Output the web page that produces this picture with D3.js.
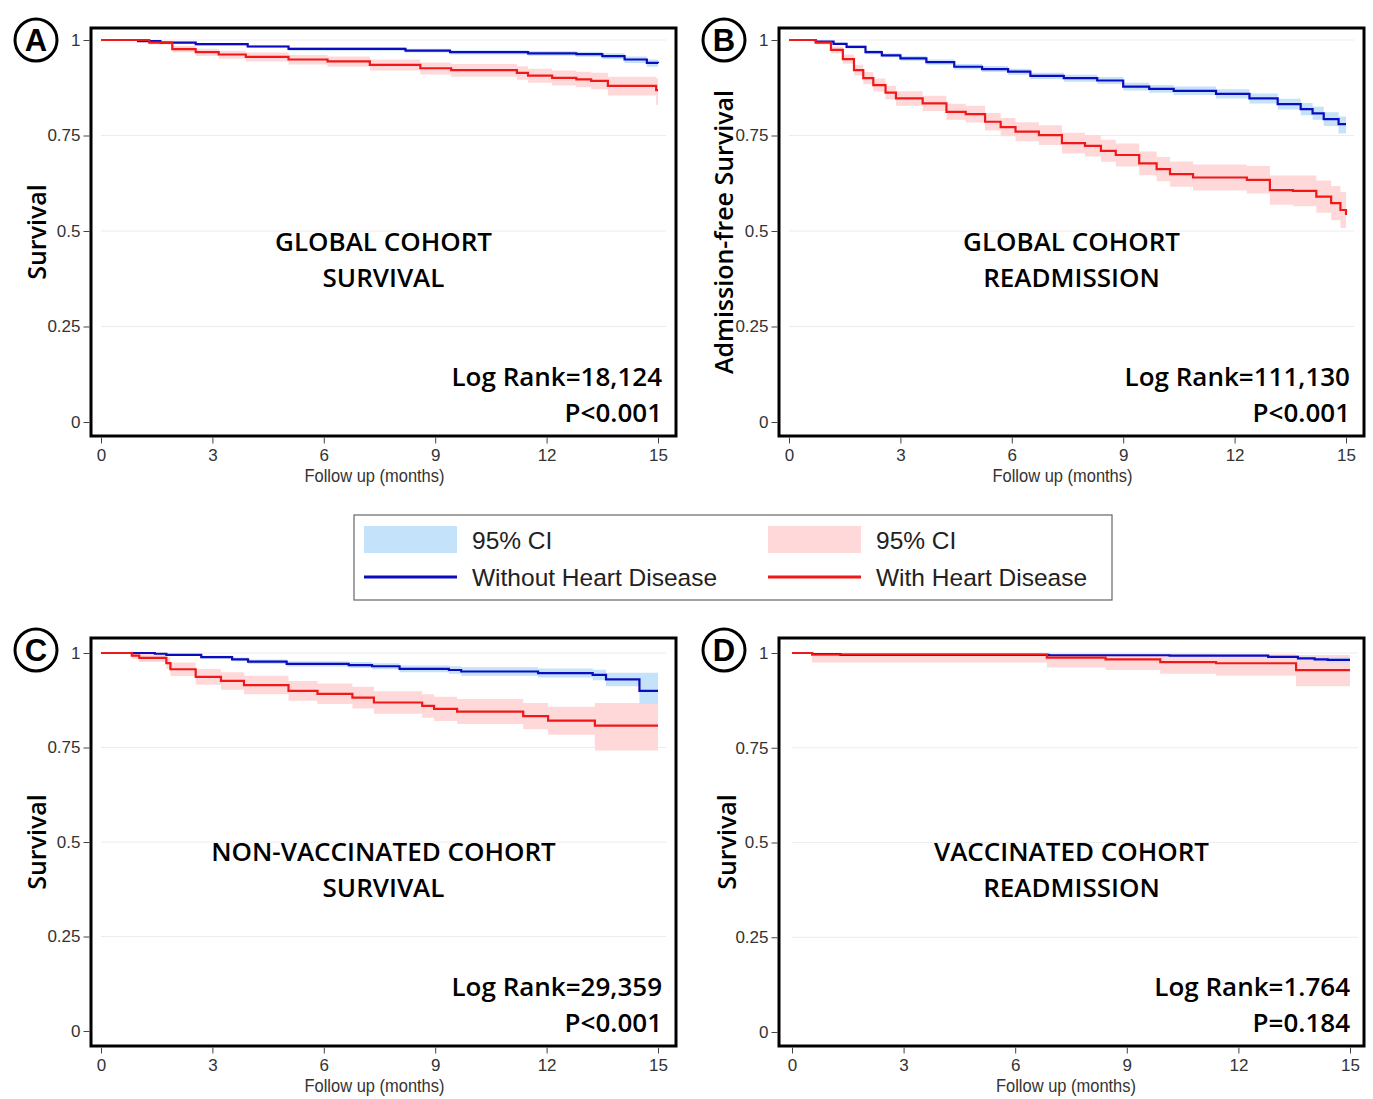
<!DOCTYPE html>
<html>
<head>
<meta charset="utf-8">
<script src="https://cdn.jsdelivr.net/npm/d3@7"></script>
<style>
    body { margin: 0; background: #fff; }
    svg { display: block; }
    .tick text { font-family: "Liberation Sans Narrow", "Liberation Sans", sans-serif; font-size: 17px; fill: #333; }
    .tick line { stroke: #444; }
    .domain { display: none; }
</style>
</head>
<body>
<svg width="1373" height="1099"></svg>
<script>
// months, survival, lower 95% CI, upper 95% CI
const aWithout = [
    [0, 1, 1, 1], [1.0, 0.997, 0.995, 0.999], [1.6, 0.993, 0.990, 0.996], [2.55, 0.989, 0.985, 0.992],
    [3.95, 0.983, 0.979, 0.987], [5.05, 0.977, 0.972, 0.981], [8.2, 0.972, 0.967, 0.977],
    [9.4, 0.968, 0.962, 0.973], [11.5, 0.965, 0.959, 0.971], [12.8, 0.963, 0.956, 0.969],
    [13.5, 0.958, 0.950, 0.965], [14.1, 0.949, 0.940, 0.957], [14.7, 0.940, 0.930, 0.949],
    [15, 0.939, 0.929, 0.948]
];
const aWith = [
    [0, 1, 1, 1], [1.3, 0.993, 0.988, 0.998], [1.92, 0.976, 0.968, 0.984], [2.55, 0.968, 0.958, 0.977],
    [3.17, 0.962, 0.951, 0.972], [3.9, 0.956, 0.944, 0.967], [5.05, 0.949, 0.936, 0.961],
    [6.1, 0.944, 0.930, 0.957], [7.24, 0.935, 0.920, 0.949], [8.6, 0.926, 0.910, 0.941],
    [9.43, 0.921, 0.904, 0.937], [11.2, 0.914, 0.896, 0.931], [11.5, 0.907, 0.888, 0.925],
    [12.15, 0.901, 0.881, 0.920], [12.8, 0.897, 0.876, 0.917], [13.2, 0.893, 0.871, 0.914],
    [13.65, 0.880, 0.855, 0.904], [14.95, 0.869, 0.830, 0.900], [15, 0.869, 0.830, 0.900]
];
const bWithout = [
    [0, 1, 1, 1], [0.72, 0.996, 0.994, 0.998], [1.2, 0.990, 0.987, 0.993], [1.55, 0.982, 0.978, 0.986],
    [2.06, 0.968, 0.963, 0.973], [2.5, 0.960, 0.955, 0.965], [3.0, 0.952, 0.946, 0.958],
    [3.7, 0.942, 0.935, 0.949], [4.45, 0.930, 0.923, 0.937], [5.2, 0.924, 0.916, 0.932],
    [5.9, 0.917, 0.909, 0.925], [6.5, 0.906, 0.898, 0.914], [7.4, 0.900, 0.891, 0.909],
    [8.3, 0.894, 0.885, 0.903], [9.0, 0.878, 0.868, 0.888], [9.7, 0.872, 0.862, 0.882],
    [10.36, 0.867, 0.856, 0.878], [11.5, 0.859, 0.847, 0.871], [12.4, 0.847, 0.834, 0.860],
    [13.16, 0.832, 0.818, 0.846], [13.78, 0.819, 0.803, 0.835], [14.1, 0.808, 0.791, 0.825],
    [14.4, 0.793, 0.775, 0.811], [14.8, 0.780, 0.755, 0.800], [15, 0.780, 0.755, 0.800]
];
const bWith = [
    [0, 1, 1, 1], [0.72, 0.993, 0.988, 0.998], [1.13, 0.974, 0.965, 0.983], [1.45, 0.950, 0.938, 0.962],
    [1.75, 0.921, 0.907, 0.935], [2.0, 0.900, 0.884, 0.916], [2.27, 0.882, 0.865, 0.899],
    [2.6, 0.862, 0.844, 0.880], [2.88, 0.847, 0.828, 0.866], [3.6, 0.834, 0.814, 0.854],
    [4.24, 0.812, 0.791, 0.833], [4.76, 0.806, 0.784, 0.828], [5.28, 0.786, 0.763, 0.809],
    [5.7, 0.772, 0.748, 0.796], [6.1, 0.760, 0.735, 0.785], [6.73, 0.751, 0.725, 0.777],
    [7.35, 0.730, 0.703, 0.757], [7.97, 0.723, 0.695, 0.751], [8.4, 0.710, 0.681, 0.739],
    [8.8, 0.699, 0.669, 0.729], [9.43, 0.677, 0.646, 0.708], [9.9, 0.662, 0.630, 0.694],
    [10.26, 0.649, 0.616, 0.682], [10.88, 0.640, 0.606, 0.674], [12.33, 0.634, 0.598, 0.670],
    [12.95, 0.607, 0.569, 0.645], [13.57, 0.605, 0.565, 0.645], [14.2, 0.590, 0.548, 0.632],
    [14.6, 0.573, 0.528, 0.618], [14.85, 0.555, 0.508, 0.602], [15, 0.542, 0.492, 0.592]
];
const cWithout = [
    [0, 1, 1, 1], [1.45, 0.998, 0.996, 1.0], [1.76, 0.995, 0.992, 0.998], [2.7, 0.989, 0.985, 0.993],
    [3.53, 0.983, 0.978, 0.988], [3.96, 0.977, 0.971, 0.983], [5.0, 0.971, 0.964, 0.978],
    [6.67, 0.968, 0.960, 0.976], [7.3, 0.965, 0.957, 0.973], [8.04, 0.958, 0.949, 0.967],
    [9.37, 0.955, 0.945, 0.965], [9.7, 0.951, 0.940, 0.962], [11.77, 0.947, 0.935, 0.959],
    [13.24, 0.942, 0.928, 0.956], [13.6, 0.930, 0.912, 0.948], [14.5, 0.900, 0.865, 0.948],
    [15, 0.900, 0.865, 0.948]
];
const cWith = [
    [0, 1, 1, 1], [0.83, 0.993, 0.985, 1.0], [1.03, 0.987, 0.976, 0.998], [1.76, 0.973, 0.958, 0.988],
    [1.87, 0.957, 0.939, 0.975], [2.55, 0.937, 0.916, 0.958], [3.23, 0.926, 0.903, 0.949],
    [3.85, 0.915, 0.891, 0.940], [5.05, 0.900, 0.874, 0.926], [5.83, 0.892, 0.865, 0.919],
    [6.77, 0.882, 0.853, 0.911], [7.35, 0.869, 0.839, 0.899], [8.65, 0.860, 0.829, 0.891],
    [8.97, 0.852, 0.820, 0.884], [9.59, 0.845, 0.812, 0.878], [11.37, 0.833, 0.798, 0.868],
    [12.04, 0.821, 0.784, 0.858], [13.3, 0.808, 0.742, 0.868], [15, 0.808, 0.742, 0.868]
];
const dWithout = [
    [0, 1, 1, 1], [0.54, 0.997, 0.995, 0.999], [1.3, 0.995, 0.993, 0.997], [6.9, 0.994, 0.992, 0.996],
    [10.15, 0.993, 0.990, 0.996], [12.8, 0.990, 0.986, 0.994], [13.6, 0.986, 0.981, 0.991],
    [14.05, 0.983, 0.977, 0.989], [14.4, 0.982, 0.975, 0.988], [15, 0.982, 0.975, 0.988]
];
const dWith = [
    [0, 1, 1, 1], [0.54, 0.996, 0.975, 0.999], [6.85, 0.988, 0.962, 0.999], [8.43, 0.983, 0.955, 0.999],
    [9.9, 0.976, 0.945, 0.998], [11.4, 0.973, 0.940, 0.997], [13.55, 0.955, 0.912, 0.995],
    [15, 0.955, 0.912, 0.995]
];

const xTicks = [0, 3, 6, 9, 12, 15];
const yTicks = [0, 0.25, 0.5, 0.75, 1];
const yTickLabels = ["0", "0.25", "0.5", "0.75", "1"];

const panelLetters = ["A", "B", "C", "D"];
const yTitles = ["Survival", "Admission-free Survival", "Survival", "Survival"];
const titleLine1 = ["GLOBAL COHORT", "GLOBAL COHORT", "NON-VACCINATED COHORT", "VACCINATED COHORT"];
const titleLine2 = ["SURVIVAL", "READMISSION", "SURVIVAL", "READMISSION"];
const logRanks = ["Log Rank=18,124", "Log Rank=111,130", "Log Rank=29,359", "Log Rank=1.764"];
const pValues = ["P<0.001", "P<0.001", "P<0.001", "P=0.184"];
const xTitle = "Follow up (months)";

const blue = "#0c0cbe", red = "#f01818";
const blueCI = "#c4e2f9", redCI = "#ffd9d9";

const svg = d3.select("svg");

// frame [left, top, right, bottom], plot x range, plot y range
const panels = [
    { frame: [91, 28, 676, 436], xr: [101, 658], yr: [422, 40], ylab: 37, data: [aWithout, aWith] },
    { frame: [779, 28, 1364, 436], xr: [789, 1346], yr: [422, 40], ylab: 724, data: [bWithout, bWith] },
    { frame: [91, 638, 676, 1046], xr: [101, 658], yr: [1031, 653], ylab: 37, data: [cWithout, cWith] },
    { frame: [779, 638, 1364, 1046], xr: [792, 1350], yr: [1032, 653], ylab: 727, data: [dWithout, dWith] }
];

panels.forEach(function(p, i) {
    const [l, t, r, b] = p.frame;
    const x = d3.scaleLinear().domain([0, 15]).range(p.xr);
    const y = d3.scaleLinear().domain([0, 1]).range(p.yr);
    const g = svg.append("g");

    // faint grid
    g.selectAll(".grid")
        .data(yTicks.filter(d => d > 0))
        .enter()
        .append("line")
            .attr("x1", p.xr[0])
            .attr("x2", p.xr[1] + 8)
            .attr("y1", d => y(d))
            .attr("y2", d => y(d))
            .attr("stroke", "#ececec")
            .attr("stroke-width", 1);

    const area = d3.area()
        .curve(d3.curveStepAfter)
        .x(d => x(d[0]))
        .y0(d => y(d[2]))
        .y1(d => y(d[3]));
    const line = d3.line()
        .curve(d3.curveStepAfter)
        .x(d => x(d[0]))
        .y(d => y(d[1]));

    g.append("path").attr("d", area(p.data[1])).attr("fill", redCI);
    g.append("path").attr("d", area(p.data[0])).attr("fill", blueCI);
    g.append("path").attr("d", line(p.data[0])).attr("fill", "none").attr("stroke", blue).attr("stroke-width", 2.2);
    g.append("path").attr("d", line(p.data[1])).attr("fill", "none").attr("stroke", red).attr("stroke-width", 2.2);

    // frame
    g.append("rect")
        .attr("x", l).attr("y", t)
        .attr("width", r - l).attr("height", b - t)
        .attr("fill", "none")
        .attr("stroke", "#000")
        .attr("stroke-width", 3);

    g.append("g")
        .attr("transform", "translate(" + (l - 1.5) + ",0)")
        .call(d3.axisLeft(y).tickValues(yTicks).tickSize(6).tickPadding(3)
            .tickFormat((d, k) => yTickLabels[k]));

    g.append("g")
        .attr("transform", "translate(0," + (b + 1.5) + ")")
        .call(d3.axisBottom(x).tickValues(xTicks).tickSize(6).tickPadding(5));

    g.append("text")
        .attr("x", (p.xr[0] + p.xr[1]) / 2 - 5)
        .attr("y", b + 46)
        .attr("text-anchor", "middle")
        .attr("textLength", 140)
        .attr("lengthAdjust", "spacingAndGlyphs")
        .style("font-family", '"Liberation Sans Narrow", "Liberation Sans", sans-serif')
        .style("font-size", "19px")
        .style("fill", "#333")
        .text(xTitle);

    g.append("text")
        .attr("transform", "translate(" + (p.ylab + 9) + "," + ((t + b) / 2) + ") rotate(-90)")
        .attr("text-anchor", "middle")
        .style("font-family", '"Open Sans", sans-serif')
        .style("font-weight", 600)
        .style("font-size", "25px")
        .text(yTitles[i]);

    const cx = (l + r) / 2;
    const ty = t + (b - t) * 0.52 + 11;
    g.append("text")
        .attr("x", cx).attr("y", ty)
        .attr("text-anchor", "middle")
        .style("font-family", '"Open Sans", sans-serif')
        .style("font-weight", 600)
        .style("font-size", "26px")
        .text(titleLine1[i]);
    g.append("text")
        .attr("x", cx).attr("y", ty + 36)
        .attr("text-anchor", "middle")
        .style("font-family", '"Open Sans", sans-serif')
        .style("font-weight", 600)
        .style("font-size", "26px")
        .text(titleLine2[i]);

    g.append("text")
        .attr("x", r - 14).attr("y", b - 50)
        .attr("text-anchor", "end")
        .style("font-family", '"Open Sans", sans-serif')
        .style("font-weight", 600)
        .style("font-size", "26px")
        .text(logRanks[i]);
    g.append("text")
        .attr("x", r - 14).attr("y", b - 14)
        .attr("text-anchor", "end")
        .style("font-family", '"Open Sans", sans-serif')
        .style("font-weight", 600)
        .style("font-size", "26px")
        .text(pValues[i]);

    // panel letter in circle
    const lx = l - 55, ly = t + 12;
    g.append("circle")
        .attr("cx", lx).attr("cy", ly).attr("r", 21)
        .attr("fill", "#fff").attr("stroke", "#000").attr("stroke-width", 3);
    g.append("text")
        .attr("x", lx).attr("y", ly + 11)
        .attr("text-anchor", "middle")
        .style("font-family", '"Liberation Sans", Arial, sans-serif')
        .style("font-weight", 700)
        .style("font-size", "31px")
        .text(panelLetters[i]);
});

// legend
const legend = svg.append("g");
legend.append("rect")
    .attr("x", 354).attr("y", 515).attr("width", 758).attr("height", 85)
    .attr("fill", "#fff").attr("stroke", "#666").attr("stroke-width", 1.2);

const legendItems = [
    { x: 364, ci: blueCI, col: blue, label: "Without Heart Disease" },
    { x: 768, ci: redCI, col: red, label: "With Heart Disease" }
];
legendItems.forEach(function(it) {
    legend.append("rect").attr("x", it.x).attr("y", 526).attr("width", 93).attr("height", 27).attr("fill", it.ci);
    legend.append("line").attr("x1", it.x).attr("x2", it.x + 93).attr("y1", 577).attr("y2", 577)
        .attr("stroke", it.col).attr("stroke-width", 3);
    legend.append("text").attr("x", it.x + 108).attr("y", 549)
        .style("font-family", '"Liberation Sans", Arial, sans-serif').style("font-size", "24.5px").style("fill", "#222")
        .text("95% CI");
    legend.append("text").attr("x", it.x + 108).attr("y", 586)
        .style("font-family", '"Liberation Sans", Arial, sans-serif').style("font-size", "24.5px").style("fill", "#222")
        .text(it.label);
});
</script>
</body>
</html>
